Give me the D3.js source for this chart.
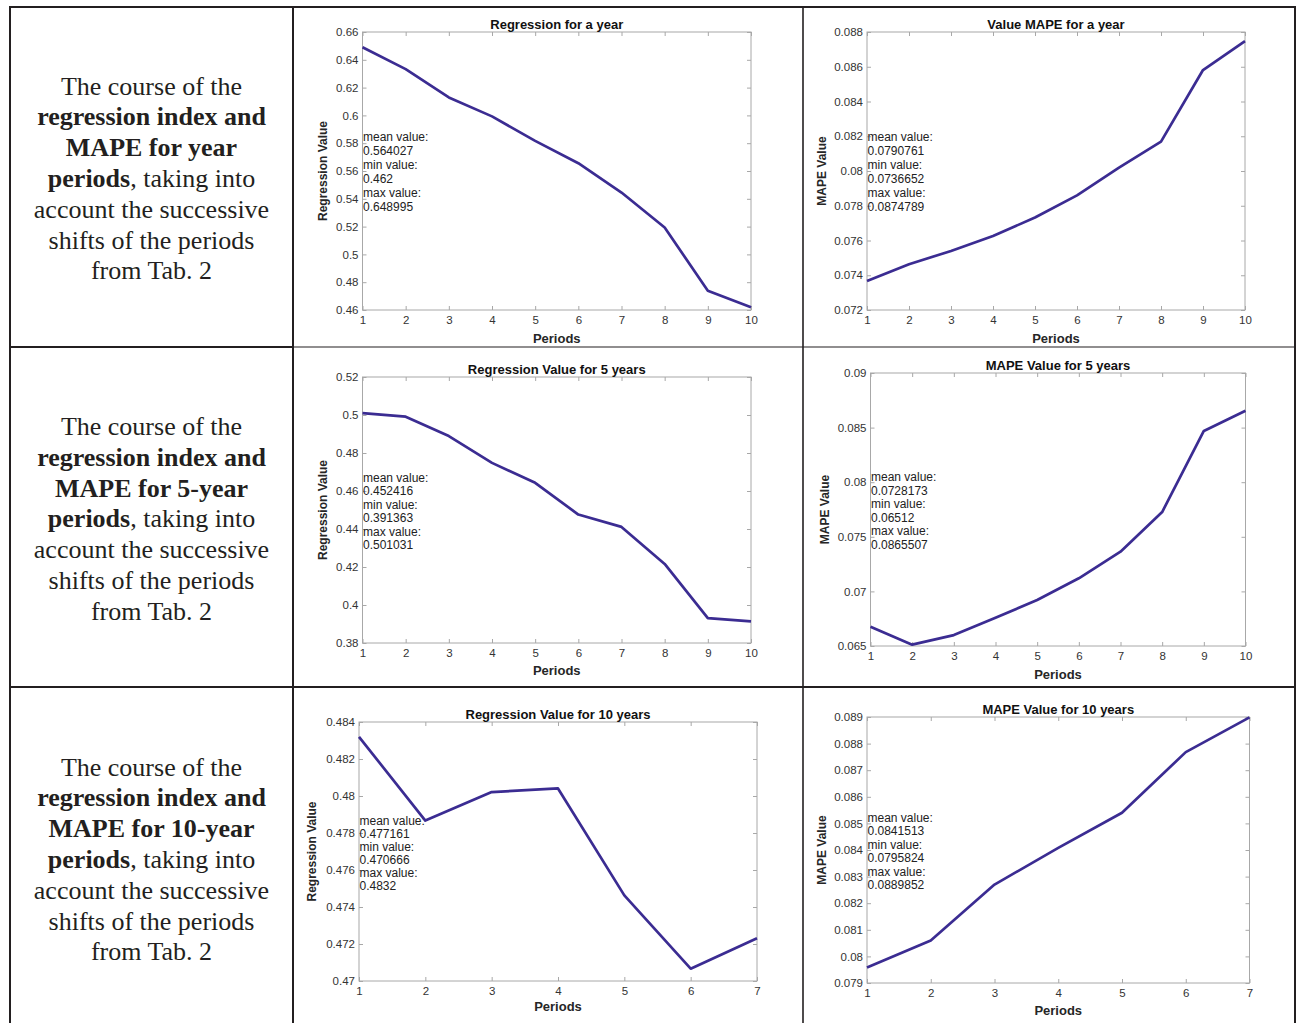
<!DOCTYPE html>
<html><head><meta charset="utf-8">
<script src="https://cdn.jsdelivr.net/npm/d3@7"></script>
<style>body{margin:0;background:#fff}</style>
</head><body>
<svg id="c" width="1297" height="1023"></svg>
<script>
// ---------- data ----------
const periodsA = [1,2,3,4,5,6,7,8,9,10];
const periodsB = [1,2,3,4,5,6,7];

const regYear  = [0.648995,0.6333,0.6129,0.5993,0.5817,0.5656,0.5445,0.5193,0.4739,0.462];
const mapeYear = [0.0736652,0.07463,0.0754,0.07626,0.07732,0.0786,0.08019,0.08169,0.08581,0.0874789];
const reg5     = [0.501031,0.4991,0.4889,0.4748,0.4643,0.4476,0.4411,0.4216,0.3931,0.391363];
const mape5    = [0.06677,0.06512,0.066,0.06759,0.06921,0.0712,0.07364,0.07727,0.08469,0.0865507];
const reg10    = [0.4832,0.47867,0.48021,0.48041,0.47463,0.470666,0.47231];
const mape10   = [0.0795824,0.0806,0.0827,0.08408,0.0854,0.08768,0.0889852];

const regYearTicks  = [0.46,0.48,0.5,0.52,0.54,0.56,0.58,0.6,0.62,0.64,0.66];
const mapeYearTicks = [0.072,0.074,0.076,0.078,0.08,0.082,0.084,0.086,0.088];
const reg5Ticks     = [0.38,0.4,0.42,0.44,0.46,0.48,0.5,0.52];
const mape5Ticks    = [0.065,0.07,0.075,0.08,0.085,0.09];
const reg10Ticks    = [0.47,0.472,0.474,0.476,0.478,0.48,0.482,0.484];
const mape10Ticks   = [0.079,0.08,0.081,0.082,0.083,0.084,0.085,0.086,0.087,0.088,0.089];

const statsRegYear  = ["0.564027","0.462","0.648995"];
const statsMapeYear = ["0.0790761","0.0736652","0.0874789"];
const statsReg5     = ["0.452416","0.391363","0.501031"];
const statsMape5    = ["0.0728173","0.06512","0.0865507"];
const statsReg10    = ["0.477161","0.470666","0.4832"];
const statsMape10   = ["0.0841513","0.0795824","0.0889852"];

const titles = ["Regression for a year","Value MAPE for a year","Regression Value for 5 years",
                "MAPE Value for 5 years","Regression Value for 10 years","MAPE Value for 10 years"];
const yLabels = ["Regression Value","MAPE Value","Regression Value","MAPE Value","Regression Value","MAPE Value"];
const xLabel = "Periods";
const statNames = ["mean value:","min value:","max value:"];

const rowTexts = [
 ["The course of the","**regression index and**","**MAPE for year**","**periods**, taking into","account the successive","shifts of the periods","from Tab. 2"],
 ["The course of the","**regression index and**","**MAPE for 5-year**","**periods**, taking into","account the successive","shifts of the periods","from Tab. 2"],
 ["The course of the","**regression index and**","**MAPE for 10-year**","**periods**, taking into","account the successive","shifts of the periods","from Tab. 2"]
];

// ---------- layout ----------
const svg = d3.select("#c");
svg.append("rect").attr("width",1297).attr("height",1023).attr("fill","#fff");

const charts = [
 {x:periodsA, y:regYear,  ticks:regYearTicks,  stats:statsRegYear,  box:[362.5,751,32,310],   titleY:24,  xlabY:338,  ylabX:323, annY:137, annDy:14},
 {x:periodsA, y:mapeYear, ticks:mapeYearTicks, stats:statsMapeYear, box:[867,1245,32,310],    titleY:24,  xlabY:338,  ylabX:822, annY:137, annDy:14},
 {x:periodsA, y:reg5,     ticks:reg5Ticks,     stats:statsReg5,     box:[362.5,751,377,643],  titleY:369, xlabY:670,  ylabX:323, annY:478, annDy:13.4},
 {x:periodsA, y:mape5,    ticks:mape5Ticks,    stats:statsMape5,    box:[870.5,1245.5,373,646], titleY:365, xlabY:674, ylabX:825, annY:477, annDy:13.6},
 {x:periodsB, y:reg10,    ticks:reg10Ticks,    stats:statsReg10,    box:[359,757,722,981],    titleY:714, xlabY:1006, ylabX:312, annY:821, annDy:12.9},
 {x:periodsB, y:mape10,   ticks:mape10Ticks,   stats:statsMape10,   box:[867,1249.5,717,983], titleY:709, xlabY:1010, ylabX:822, annY:818, annDy:13.4}
];

const fmt = d => String(+d.toFixed(4));
const sans = "'Liberation Sans', Arial, Helvetica, sans-serif";
const axisCol = "#a8a8a8";

charts.forEach((c,i) => {
  const [l,r,t,b] = c.box;
  const xs = d3.scaleLinear().domain([c.x[0], c.x[c.x.length-1]]).range([l,r]);
  const ys = d3.scaleLinear().domain([c.ticks[0], c.ticks[c.ticks.length-1]]).range([b,t]);
  const g = svg.append("g");

  const styleAxis = (sel) => {
    sel.select(".domain").remove();
    sel.selectAll(".tick line").attr("stroke",axisCol);
    sel.selectAll(".tick text").attr("fill","#333").style("font-family",sans).style("font-size","11.5px");
  };
  g.append("g").attr("transform",`translate(${l},0)`)
    .call(d3.axisLeft(ys).tickValues(c.ticks).tickFormat(fmt).tickSize(-4).tickPadding(4)).call(styleAxis);
  g.append("g").attr("transform",`translate(${r},0)`)
    .call(d3.axisRight(ys).tickValues(c.ticks).tickFormat("").tickSize(-4)).call(styleAxis);
  g.append("g").attr("transform",`translate(0,${b})`)
    .call(d3.axisBottom(xs).tickValues(c.x).tickFormat(d3.format("d")).tickSize(-4).tickPadding(6)).call(styleAxis);
  g.append("g").attr("transform",`translate(0,${t})`)
    .call(d3.axisTop(xs).tickValues(c.x).tickFormat("").tickSize(-4)).call(styleAxis);

  g.append("rect").attr("x",l).attr("y",t).attr("width",r-l).attr("height",b-t)
    .attr("fill","none").attr("stroke",axisCol).attr("stroke-width",1);

  // stats annotation
  const lines = [];
  c.stats.forEach((v,k) => { lines.push(statNames[k]); lines.push(v); });
  g.selectAll("text.ann").data(lines).join("text").attr("class","ann")
    .attr("x",l+0.5).attr("y",(d,k)=>c.annY + k*c.annDy)
    .attr("dominant-baseline","central")
    .style("font-family",sans).style("font-size","12px").attr("fill","#222").text(d=>d);

  // line
  g.append("path").datum(c.y.map((v,k)=>[c.x[k],v]))
    .attr("d", d3.line().x(d=>xs(d[0])).y(d=>ys(d[1])))
    .attr("fill","none").attr("stroke","#3b2c92").attr("stroke-width",2.7).attr("stroke-linejoin","round");

  // title, labels
  g.append("text").attr("x",(l+r)/2).attr("y",c.titleY).attr("text-anchor","middle").attr("dominant-baseline","central")
    .style("font-family",sans).style("font-size","13px").style("font-weight","bold").attr("fill","#111").text(titles[i]);
  g.append("text").attr("x",(l+r)/2).attr("y",c.xlabY).attr("text-anchor","middle").attr("dominant-baseline","central")
    .style("font-family",sans).style("font-size","13px").style("font-weight","bold").attr("fill","#262626").text(xLabel);
  g.append("text").attr("transform",`translate(${c.ylabX},${(t+b)/2}) rotate(-90)`)
    .attr("text-anchor","middle").attr("dominant-baseline","central")
    .style("font-family",sans).style("font-size","12px").style("font-weight","bold").attr("fill","#262626").text(yLabels[i]);
});

// ---------- table borders ----------
const bc = "#231f20";
const hl = (x1,x2,y,w) => svg.append("line").attr("x1",x1).attr("x2",x2).attr("y1",y).attr("y2",y).attr("stroke",bc).attr("stroke-width",w);
const vl = (x,y1,y2,w) => svg.append("line").attr("x1",x).attr("x2",x).attr("y1",y1).attr("y2",y2).attr("stroke",bc).attr("stroke-width",w);
hl(9,1296,7,2);
hl(9,294,347,2); hl(294,1296,347,1.2);
hl(9,1296,687,2);
vl(10,6,1023,2); vl(293,6,1023,2); vl(803,6,1023,1.6); vl(1295,6,1023,2);

// ---------- left text cells ----------
rowTexts.forEach((rows,ri) => {
  const base0 = 94.5 + ri*340.5;
  rows.forEach((line,li) => {
    const t = svg.append("text").attr("x",151.5).attr("y",base0 + li*30.8).attr("text-anchor","middle")
      .style("font-family","'Liberation Serif','Times New Roman',serif").style("font-size","26px").attr("fill","#231f20");
    line.split(/(\*\*[^*]+\*\*)/).filter(s=>s.length).forEach(seg => {
      const bold = seg.startsWith("**");
      t.append("tspan").style("font-weight",bold?"bold":"normal").text(bold?seg.slice(2,-2):seg);
    });
  });
});
</script>
</body></html>
